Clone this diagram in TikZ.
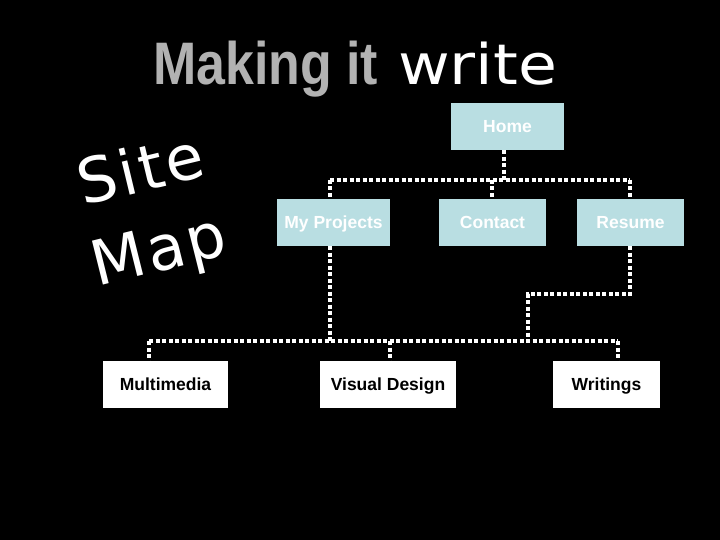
\documentclass[tikz,border=0pt]{standalone}
\usepackage{fontspec}
\setmainfont{Liberation Sans}
\newfontfamily\vfont{DejaVu Sans}
\newfontfamily\vfontsp{DejaVu Sans}[LetterSpace=5]
\definecolor{boxblue}{RGB}{185,222,226}
\definecolor{titlegray}{RGB}{178,178,178}
\begin{document}
\begin{tikzpicture}[x=1pt,y=-1pt,
  boxbase/.style={inner sep=0pt, minimum height=47pt, text height=12.6pt, text depth=0pt,
    font=\fontsize{17.5}{20}\selectfont\bfseries},
  bluebox/.style={boxbase, fill=boxblue, text=white},
  whitebox/.style={boxbase, fill=white, text=black},
  dotline/.style={draw=white, line width=4pt, dash pattern=on 4pt off 2.5pt}]
\fill[black] (0,0) rectangle (720,540);
\useasboundingbox (0,0) rectangle (720,540);
% title
\node[anchor=base west, inner sep=0pt, text=titlegray] (t1) at (153,85)
  {\scalebox{0.865}[1]{\fontsize{60}{70}\selectfont\bfseries Making it}};
\node[anchor=base west, inner sep=0pt, text=white] (t2) at (398,85)
  {\scalebox{1.13}[1]{\vfont\fontsize{56}{66}\selectfont write}};
% site map
\node[anchor=base west, inner sep=0pt, text=white, rotate=13.5] (s1) at (83,206)
  {\vfontsp\fontsize{62}{70}\selectfont Site};
\node[anchor=base west, inner sep=0pt, text=white, rotate=14] (s2) at (97,287)
  {\vfontsp\fontsize{62}{70}\selectfont Map};
% boxes
\node[bluebox, minimum width=113pt] (home) at (507.5,126.5) {Home};
\node[bluebox, minimum width=113pt] (proj) at (333.5,222.5) {My Projects};
\node[bluebox, minimum width=107pt] (contact) at (492.5,222.5) {Contact};
\node[bluebox, minimum width=107pt] (resume) at (630.5,222.5) {Resume};
\node[whitebox, minimum width=125pt] (mm) at (165.5,384.5) {Multimedia};
\node[whitebox, minimum width=136pt] (vd) at (388,384.5) {Visual Design};
\node[whitebox, minimum width=107pt] (wr) at (606.5,384.5) {Writings};
% connector points
\coordinate (b1L) at (330,180);
\coordinate (b1R) at (630,180);
\coordinate (b1H) at (504,180);
\coordinate (b1C) at (492,180);
\coordinate (b2L) at (149,341);
\coordinate (b2R) at (618,341);
\coordinate (b2P) at (330,341);
\coordinate (b2V) at (390,341);
\coordinate (r1) at (630,294);
\coordinate (r2) at (528,294);
\coordinate (r3) at (528,341);
% connectors
\draw[dotline] (b1L) -- (b1R);
\draw[dotline] (home.south -| b1H) -- (b1H);
\draw[dotline] (b1L) -- (proj.north -| b1L);
\draw[dotline] (b1C) -- (contact.north -| b1C);
\draw[dotline] (b1R) -- (resume.north -| b1R);
\draw[dotline] (proj.south -| b2P) -- (b2P);
\draw[dotline] (resume.south -| r1) -- (r1) -- (r2) -- (r3);
\draw[dotline] (b2L) -- (b2R);
\draw[dotline] (b2L) -- (mm.north -| b2L);
\draw[dotline] (b2V) -- (vd.north -| b2V);
\draw[dotline] (b2R) -- (wr.north -| b2R);
\end{tikzpicture}
\end{document}
